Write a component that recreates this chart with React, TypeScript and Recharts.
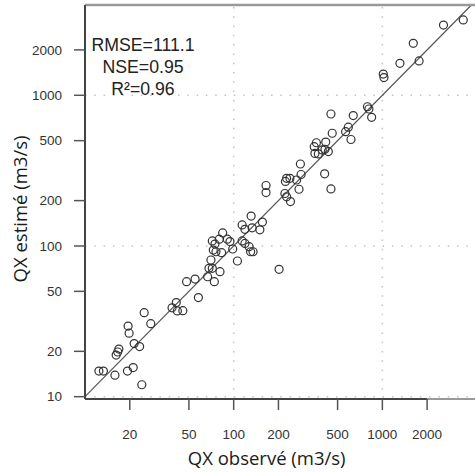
import { ScatterChart, Scatter, XAxis, YAxis, ReferenceLine } from "recharts";

const observed = [
  12.4, 13.3, 15.9, 19.3, 21.1, 24.1, 16.2, 16.6, 16.9, 19.5, 19.8, 21.4, 23.3, 25.0, 27.7, 38.5, 41.1, 41.8, 45.5, 48.2,
  55.0, 57.9,
  66.8, 68.2, 71.8, 70.3, 74.1, 80.9, 71.8, 72.9, 76.0, 80.0, 83.0, 84.3, 90.6, 94.4, 98.5, 106, 114, 119, 127, 130, 135,
  114, 119, 133, 150, 156, 131, 165, 165, 202, 74.8,
  221, 227, 241, 275, 227, 239, 223, 265, 284, 281, 409, 451, 360, 416, 348, 352, 371, 394, 411, 433, 451, 460, 566, 590,
  615, 637, 794, 812, 847, 1014, 1025, 1313, 1766, 1614, 2577, 3500,
];
const estimated = [
  14.8, 14.8, 13.9, 14.8, 15.6, 12.0, 18.9, 19.8, 20.7, 29.4, 26.4, 22.5, 21.5, 36.1, 30.5, 38.9, 42.1, 37.1, 37.2, 58.0,
  60.3, 45.5,
  62.5, 71.1, 71.1, 80.7, 58.0, 67.5, 108, 94.0, 91.6, 111, 90.3, 122, 111, 107, 95.5, 79.5, 108, 104, 98.9, 91.6, 91.6,
  138, 129, 132, 128, 144, 158, 252, 226, 70.0, 103,
  223, 212, 197, 238, 281, 281, 268, 274, 298, 350, 301, 239, 484, 489, 456, 411, 408, 434, 438, 423, 751, 560, 573, 614,
  509, 733, 839, 811, 714, 1383, 1310, 1630, 1690, 2213, 2924, 3163,
];
const xTicks = [20, 50, 100, 200, 500, 1000, 2000];
const yTicks = [10, 20, 50, 100, 200, 500, 1000, 2000];
const gridValues = [100, 1000];
const stats = ["RMSE=111.1", "NSE=0.95", "R²=0.96"];
const xTitle = "QX observé (m3/s)";
const yTitle = "QX estimé (m3/s)";

const X_DOMAIN: [number, number] = [10, 4198];
const Y_DOMAIN: [number, number] = [9.654, 3972];

const points = observed.map((x, i) => ({ x, y: estimated[i] }));

const tickFont = { fill: "#333", fontSize: 13.5, fontFamily: '"Liberation Sans", Arial, sans-serif' };

function OpenCircle(props: any) {
  const { cx, cy } = props;
  if (cx == null || cy == null) return null;
  return <circle cx={cx} cy={cy} r={4} fill="none" stroke="#333" strokeWidth={1.2} />;
}

export default function App() {
  return (
    <div style={{ position: "absolute", left: 0, top: 0, width: 475, height: 473, background: "#fff" }}>
      <ScatterChart width={475} height={473} margin={{ top: 5, right: 0, bottom: 0, left: 0 }}>
        <XAxis
          type="number"
          dataKey="x"
          scale="log"
          domain={X_DOMAIN}
          allowDataOverflow
          ticks={xTicks}
          height={74}
          axisLine={false}
          tickSize={11}
          tickMargin={19}
          tickLine={{ stroke: "#555", strokeWidth: 1.5 }}
          tick={tickFont}
        />
        <YAxis
          type="number"
          dataKey="y"
          scale="log"
          domain={Y_DOMAIN}
          allowDataOverflow
          ticks={yTicks}
          width={85}
          axisLine={{ stroke: "#444", strokeWidth: 2 }}
          tickSize={11}
          tickMargin={12}
          tickLine={{ stroke: "#555", strokeWidth: 1.5 }}
          tick={tickFont}
        />
        {gridValues.map((v) => (
          <ReferenceLine key={"gx" + v} x={v} stroke="#c4c4c4" strokeWidth={1.5} strokeDasharray="1.5 7.8" />
        ))}
        {[10, ...gridValues].map((v) => (
          <ReferenceLine key={"gy" + v} y={v} stroke="#c4c4c4" strokeWidth={1.5} strokeDasharray="1.5 7.8" />
        ))}
        <ReferenceLine
          segment={[
            { x: 10, y: 10 },
            { x: 3972, y: 3972 },
          ]}
          stroke="#555"
          strokeWidth={1.2}
        />
        <Scatter data={points} shape={OpenCircle} isAnimationActive={false} />
        <ReferenceLine
          segment={[
            { x: 10, y: Y_DOMAIN[0] },
            { x: 2000, y: Y_DOMAIN[0] },
          ]}
          stroke="#444"
          strokeWidth={2}
        />
        <ReferenceLine
          segment={[
            { x: 2000, y: Y_DOMAIN[0] },
            { x: X_DOMAIN[1], y: Y_DOMAIN[0] },
          ]}
          stroke="#999"
          strokeWidth={2}
        />
        <ReferenceLine
          segment={[
            { x: X_DOMAIN[0], y: Y_DOMAIN[1] },
            { x: X_DOMAIN[1], y: Y_DOMAIN[1] },
          ]}
          stroke="#999"
          strokeWidth={2.5}
        />
      </ScatterChart>
      <svg
        width={475}
        height={473}
        style={{ position: "absolute", left: 0, top: 0, pointerEvents: "none" }}
      >
        {stats.map((s, i) => (
          <text
            key={s}
            x={143}
            y={51 + i * 22}
            textAnchor="middle"
            fontSize={17.7}
            fontFamily='"Liberation Sans", Arial, sans-serif'
            fill="#222"
          >
            {s}
          </text>
        ))}
        <text x={266.7} y={465} textAnchor="middle" fontSize={18.5} fontFamily='"Open Sans", sans-serif' fill="#1a1a1a">
          {xTitle}
        </text>
        <text
          x={26.7}
          y={209}
          textAnchor="middle"
          fontSize={18.5}
          fontFamily='"Open Sans", sans-serif'
          fill="#1a1a1a"
          transform="rotate(-90, 26.7, 209)"
        >
          {yTitle}
        </text>
      </svg>
    </div>
  );
}
